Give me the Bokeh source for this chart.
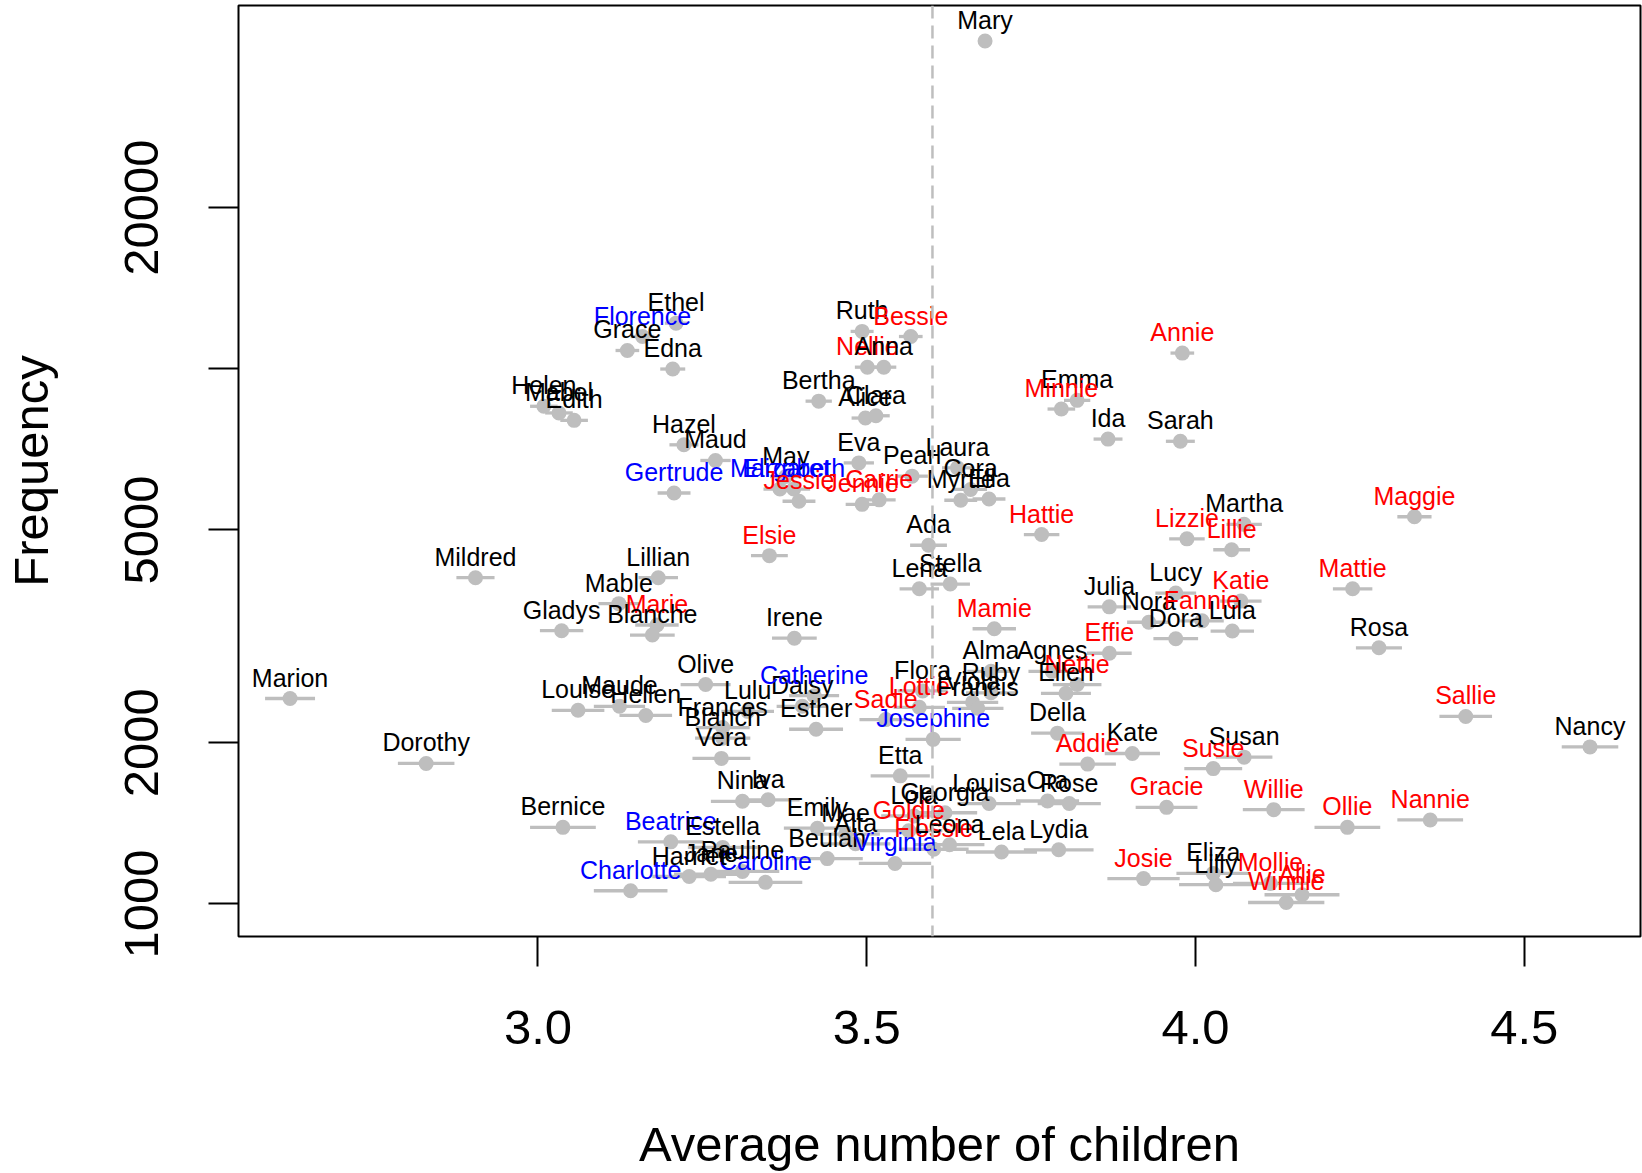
import math
from bokeh.plotting import figure
from bokeh.models import ColumnDataSource, Span, FixedTicker, Range1d, PrintfTickFormatter, CustomJSTickFormatter
from bokeh.core.properties import value
from bokeh.embed import file_html
from bokeh.resources import INLINE

names = ["Mary", "Ethel", "Florence", "Grace", "Edna", "Helen", "Mabel", "Edith", "Hazel", "Maud",
         "Gertrude", "May", "Margaret", "Elizabeth", "Jessie", "Eva", "Carrie", "Jennie", "Ruth", "Bessie",
         "Nellie", "Anna", "Bertha", "Alice", "Clara", "Pearl", "Laura", "Cora", "Myrtle", "Ella",
         "Annie", "Emma", "Minnie", "Ida", "Sarah", "Hattie", "Lizzie", "Martha", "Lillie", "Elsie",
         "Ada", "Lillian", "Mildred", "Stella", "Lena", "Maggie", "Mattie", "Rosa", "Mable", "Marie",
         "Blanche", "Gladys", "Marion", "Dorothy", "Louise", "Maude", "Hellen", "Olive", "Lulu", "Daisy",
         "Catherine", "Esther", "Frances", "Blanch", "Vera", "Sadie", "Lottie", "Josephine", "Etta", "Flora",
         "Ruby", "Viola", "Francis", "Alma", "Agnes", "Nettie", "Ellen", "Effie", "Della", "Addie",
         "Kate", "Susan", "Susie", "Gracie", "Willie", "Josie", "Eliza", "Lilly", "Mollie", "Allie",
         "Winnie", "Julia", "Lucy", "Katie", "Nora", "Fannie", "Dora", "Lula", "Sallie", "Nancy",
         "Ollie", "Nannie", "Nina", "Iva", "Emily", "Mae", "Alta", "Beulah", "Virginia", "Caroline",
         "Goldie", "Lola", "Georgia", "Flossie", "Leona", "Louisa", "Ora", "Rose", "Lela", "Lydia",
         "Irene", "Bernice", "Beatrice", "Estella", "Harriet", "Charlotte", "Pauline", "Jane", "Mamie"]

avg_children = [3.680, 3.210, 3.159, 3.136, 3.205, 3.009, 3.032, 3.055, 3.222, 3.270,
                3.207, 3.377, 3.368, 3.389, 3.397, 3.488, 3.519, 3.493, 3.493, 3.567,
                3.501, 3.526, 3.427, 3.498, 3.514, 3.569, 3.638, 3.658, 3.643, 3.686,
                3.980, 3.820, 3.796, 3.867, 3.977, 3.766, 3.987, 4.074, 4.055, 3.352,
                3.594, 3.183, 2.905, 3.627, 3.580, 4.333, 4.239, 4.279, 3.123, 3.181,
                3.174, 3.036, 2.623, 2.830, 3.061, 3.124, 3.164, 3.255, 3.319, 3.402,
                3.420, 3.423, 3.281, 3.281, 3.279, 3.529, 3.580, 3.601, 3.551, 3.585,
                3.689, 3.661, 3.669, 3.689, 3.782, 3.820, 3.803, 3.869, 3.790, 3.836,
                3.904, 4.074, 4.027, 3.956, 4.119, 3.921, 4.027, 4.031, 4.114, 4.162,
                4.138, 3.869, 3.970, 4.069, 3.929, 4.010, 3.970, 4.056, 4.411, 4.600,
                4.231, 4.357, 3.311, 3.350, 3.425, 3.468, 3.483, 3.440, 3.543, 3.346,
                3.564, 3.572, 3.619, 3.602, 3.626, 3.686, 3.775, 3.808, 3.705, 3.792,
                3.390, 3.038, 3.202, 3.281, 3.230, 3.141, 3.311, 3.263, 3.694]

frequency = [40990, 12170, 11490, 10820, 9990, 8510, 8270, 8010, 7210, 6740,
             5860, 6290, 5960, 5960, 5655, 6670, 5690, 5580, 11745, 11490,
             10070, 10070, 8700, 8090, 8170, 6300, 6530, 5950, 5680, 5710,
             10700, 8730, 8410, 7390, 7320, 4900, 4810, 5120, 4590, 4475,
             4680, 4070, 4070, 3960, 3880, 5290, 3880, 3010, 3640, 3320,
             3180, 3240, 2420, 1830, 2300, 2340, 2250, 2570, 2290, 2340,
             2450, 2120, 2135, 2040, 1870, 2210, 2330, 2030, 1735, 2500,
             2480, 2380, 2320, 2720, 2720, 2570, 2475, 2940, 2085, 1825,
             1910, 1880, 1790, 1515, 1500, 1115, 1140, 1086, 1092, 1040,
             1006, 3590, 3810, 3680, 3360, 3380, 3130, 3235, 2240, 1965,
             1390, 1435, 1555, 1565, 1385, 1350, 1295, 1215, 1190, 1097,
             1370, 1460, 1480, 1265, 1290, 1540, 1557, 1540, 1250, 1262,
             3137, 1390, 1306, 1275, 1125, 1058, 1150, 1136, 3267]

spread = [0.0095, 0.017, 0.018, 0.018, 0.019, 0.021, 0.021, 0.021, 0.022, 0.023,
          0.025, 0.024, 0.025, 0.025, 0.025, 0.023, 0.025, 0.025, 0.0175, 0.018,
          0.019, 0.019, 0.020, 0.021, 0.021, 0.024, 0.0235, 0.025, 0.025, 0.025,
          0.018, 0.020, 0.021, 0.022, 0.022, 0.027, 0.027, 0.027, 0.028, 0.028,
          0.028, 0.030, 0.029, 0.030, 0.030, 0.026, 0.030, 0.035, 0.031, 0.033,
          0.034, 0.033, 0.038, 0.043, 0.040, 0.039, 0.040, 0.038, 0.040, 0.039,
          0.038, 0.041, 0.041, 0.042, 0.044, 0.040, 0.039, 0.042, 0.045, 0.038,
          0.038, 0.039, 0.039, 0.036, 0.036, 0.037, 0.038, 0.034, 0.040, 0.043,
          0.042, 0.043, 0.044, 0.047, 0.047, 0.055, 0.056, 0.056, 0.057, 0.057,
          0.058, 0.033, 0.031, 0.0315, 0.033, 0.033, 0.034, 0.033, 0.040, 0.043,
          0.050, 0.050, 0.048, 0.048, 0.051, 0.052, 0.053, 0.054, 0.055, 0.056,
          0.051, 0.050, 0.049, 0.053, 0.053, 0.048, 0.048, 0.048, 0.054, 0.053,
          0.034, 0.050, 0.050, 0.053, 0.056, 0.056, 0.056, 0.056, 0.033]

group = ["o", "o", "f", "o", "o", "o", "o", "o", "o", "o",
         "f", "o", "f", "f", "ie", "o", "ie", "ie", "o", "ie",
         "ie", "o", "o", "o", "o", "o", "o", "o", "o", "o",
         "ie", "o", "ie", "o", "o", "ie", "ie", "o", "ie", "ie",
         "o", "o", "o", "o", "o", "ie", "ie", "o", "o", "ie",
         "o", "o", "o", "o", "o", "o", "o", "o", "o", "o",
         "f", "o", "o", "o", "o", "ie", "ie", "f", "o", "o",
         "o", "o", "o", "o", "o", "ie", "o", "ie", "o", "ie",
         "o", "o", "ie", "ie", "ie", "ie", "o", "o", "ie", "ie",
         "ie", "o", "o", "ie", "o", "ie", "o", "o", "ie", "o",
         "ie", "ie", "o", "o", "o", "o", "o", "o", "f", "f",
         "ie", "o", "o", "ie", "o", "o", "o", "o", "o", "o",
         "o", "o", "f", "o", "o", "f", "o", "o", "ie"]

color_map = {"o": "#000000", "ie": "#FF0000", "f": "#0000FF"}

src = ColumnDataSource(dict(
    name=names,
    x=avg_children,
    y=frequency,
    lo=[a - s for a, s in zip(avg_children, spread)],
    hi=[a + s for a, s in zip(avg_children, spread)],
    color=[color_map[g] for g in group],
))

FONT = "Liberation Sans"

p = figure(width=1642, height=1173,
           x_range=Range1d(2.5446, 4.6768), y_range=Range1d(869, 47750),
           y_axis_type="log", output_backend="svg", toolbar_location=None,
           min_border_left=238, min_border_right=2, min_border_top=5, min_border_bottom=236)

p.background_fill_color = "white"
p.border_fill_color = "white"
p.xgrid.visible = False
p.ygrid.visible = False
p.outline_line_color = "black"
p.outline_line_width = 2

p.xaxis.ticker = FixedTicker(ticks=[3.0, 3.5, 4.0, 4.5])
p.xaxis.formatter = PrintfTickFormatter(format="%.1f")
p.yaxis.ticker = FixedTicker(ticks=[1000, 2000, 5000, 10000, 20000])
p.yaxis.formatter = CustomJSTickFormatter(code="return (Math.abs(tick - 10000) < 1) ? '' : tick.toFixed(0);")

for ax in (p.xaxis[0], p.yaxis[0]):
    ax.axis_line_color = None
    ax.major_tick_in = 0
    ax.major_tick_out = 30
    ax.major_tick_line_width = 2
    ax.major_tick_line_color = "black"
    ax.minor_tick_line_color = None
    ax.major_label_text_font = FONT
    ax.major_label_text_font_size = "49px"
    ax.major_label_text_color = "black"
    ax.axis_label_text_font = FONT
    ax.axis_label_text_font_size = "49px"
    ax.axis_label_text_font_style = "normal"
    ax.axis_label_text_color = "black"

p.xaxis.axis_label = "Average number of children"
p.xaxis.major_label_standoff = 44
p.xaxis.axis_label_standoff = 70
p.yaxis.axis_label = "Frequency"
p.yaxis.major_label_orientation = "vertical"
p.yaxis.major_label_standoff = 50
p.yaxis.axis_label_standoff = 65

p.add_layout(Span(location=3.6, dimension="height", line_color="#BEBEBE",
                  line_dash="13 7", line_width=2.5))

p.segment(x0="lo", y0="y", x1="hi", y1="y", line_color="#BEBEBE", line_width=3.3, source=src)
p.scatter("x", "y", size=15, fill_color="#BEBEBE", line_color=None, source=src)
p.text("x", "y", text="name", text_color="color", text_font=value(FONT),
       text_font_size="25px", text_align="center", text_baseline="alphabetic",
       y_offset=-21, source=src)

open("out.html", "w").write(file_html(p, INLINE))
